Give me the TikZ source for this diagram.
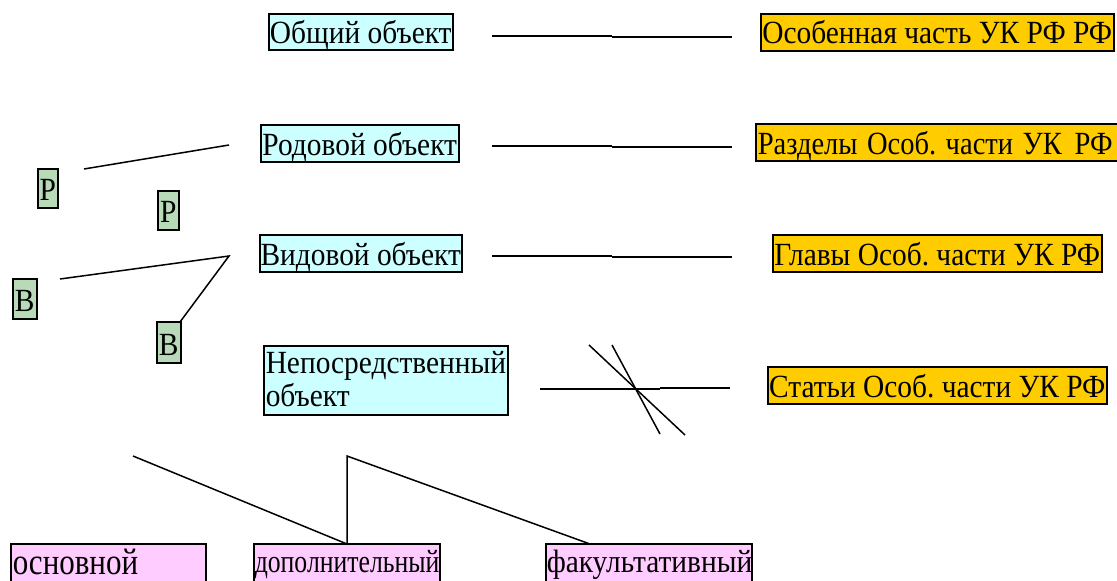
\documentclass[tikz,border=0pt]{standalone}
\usepackage{fontspec}
\usepackage{graphicx}
\setmainfont{Liberation Serif}
\frenchspacing
\definecolor{cyanbox}{HTML}{CCFFFF}
\definecolor{orangebox}{HTML}{FFCC00}
\definecolor{greenbox}{HTML}{B8DAB8}
\definecolor{pinkbox}{HTML}{FFCCFF}
\newcommand{\tl}[1]{\scalebox{1}[1.1]{#1}}
\tikzset{
  box/.style={draw=black, line width=1.5pt, inner sep=0pt, anchor=north west,
    font=\fontsize{29.4}{30}\selectfont},
  objbox/.style={box, fill=cyanbox},
  lawbox/.style={box, fill=orangebox},
  letbox/.style={box, fill=greenbox},
  kindbox/.style={box, fill=pinkbox},
  link/.style={line width=1.5pt, black}
}
\begin{document}
\begin{tikzpicture}[x=1pt,y=-1pt]
\clip (0,0) rectangle (1117,581);
\fill[white] (0,0) rectangle (1117,581);
% object boxes
\node[objbox, minimum width=184, text height=30, text depth=6] (obsh) at (268,13) {\tl{Общий объект}};
\node[objbox, minimum width=198, text height=31, text depth=6] (rod) at (260,124) {\tl{Родовой объект}};
\node[objbox, minimum width=202, text height=31, text depth=6] (vid) at (259,234) {\tl{Видовой объект}};
\node[objbox, minimum width=244, text height=28, text depth=41, text width=240, align=left, inner xsep=2pt] (nep) at (263,345) {\tl{\begin{tabular}[t]{@{}l@{}}Непосредственный\\объект\end{tabular}}};
% law boxes
\node[lawbox, minimum width=353, text height=30, text depth=7] (osob) at (760,13) {\tl{Особенная часть УК РФ РФ}};
\node[lawbox, minimum width=370, text height=31, text depth=6, text width=366, align=left, inner xsep=2pt] (razd) at (755,123) {\scalebox{0.97}[1.1]{Разделы Особ. части УК\hspace{0.45em}РФ}};
\node[lawbox, minimum width=329, text height=31, text depth=6] (glav) at (772,234) {\tl{Главы Особ. части УК РФ}};
\node[lawbox, minimum width=339, text height=31, text depth=6] (stat) at (767,366) {\tl{Статьи Особ. части УК РФ}};
% letter boxes
\node[letbox, minimum width=20, text height=32, text depth=7] (p1) at (37,168) {\tl{Р}};
\node[letbox, minimum width=21, text height=32, text depth=7] (p2) at (157,190) {\tl{Р}};
\node[letbox, minimum width=24, text height=33, text depth=7] (v1) at (12,278) {\tl{В}};
\node[letbox, minimum width=24, text height=34, text depth=7] (v2) at (156,321) {\tl{В}};
% kind boxes
\node[kindbox, minimum width=195, text height=31, text depth=30, text width=191, align=left, inner xsep=2pt, font=\fontsize{31}{34}\selectfont] (osn) at (10,543) {\scalebox{1}[1.2]{основной}};
\node[kindbox, minimum width=186, text height=29, text depth=30, text width=184, align=left, inner xsep=1pt] (dop) at (253,543) {\scalebox{0.875}[1.1]{дополнительный}};
\node[kindbox, minimum width=206, text height=29, text depth=30, text width=204, align=left, inner xsep=1pt] (fak) at (545,543) {\tl{факультативный}};
% row connectors
\coordinate (r1a) at (492,36); \coordinate (r1b) at (612,36); \coordinate (r1c) at (612,37); \coordinate (r1d) at (732,37);
\coordinate (r2a) at (492,146); \coordinate (r2b) at (612,146); \coordinate (r2c) at (612,147); \coordinate (r2d) at (732,147);
\coordinate (r3a) at (492,256); \coordinate (r3b) at (612,256); \coordinate (r3c) at (612,257); \coordinate (r3d) at (732,257);
\coordinate (r4a) at (540,389); \coordinate (r4b) at (660,389); \coordinate (r4c) at (660,388); \coordinate (r4d) at (730,388);
\draw[link] (r1a) -- (r1b); \draw[link] (r1c) -- (r1d);
\draw[link] (r2a) -- (r2b); \draw[link] (r2c) -- (r2d);
\draw[link] (r3a) -- (r3b); \draw[link] (r3c) -- (r3d);
\draw[link] (r4a) -- (r4b); \draw[link] (r4c) -- (r4d);
% crossing strokes
\coordinate (x1a) at (589,345); \coordinate (x1b) at (685,435);
\coordinate (x2a) at (612,345); \coordinate (x2b) at (660,434);
\draw[link] (x1a) -- (x1b);
\draw[link] (x2a) -- (x2b);
% left connectors
\coordinate (pa) at (84,169); \coordinate (pb) at (229,145);
\coordinate (va) at (60,279); \coordinate (vb) at (229,256); \coordinate (vc) at (180,322);
\draw[link] (pa) -- (pb);
\draw[link] (va) -- (vb) -- (vc);
% bottom connectors
\coordinate (ba) at (133,456); \coordinate (bb) at (347,544); \coordinate (bc) at (347,456); \coordinate (bd) at (590,544);
\draw[link] (ba) -- (bb) -- (bc) -- (bd);
\end{tikzpicture}
\end{document}
